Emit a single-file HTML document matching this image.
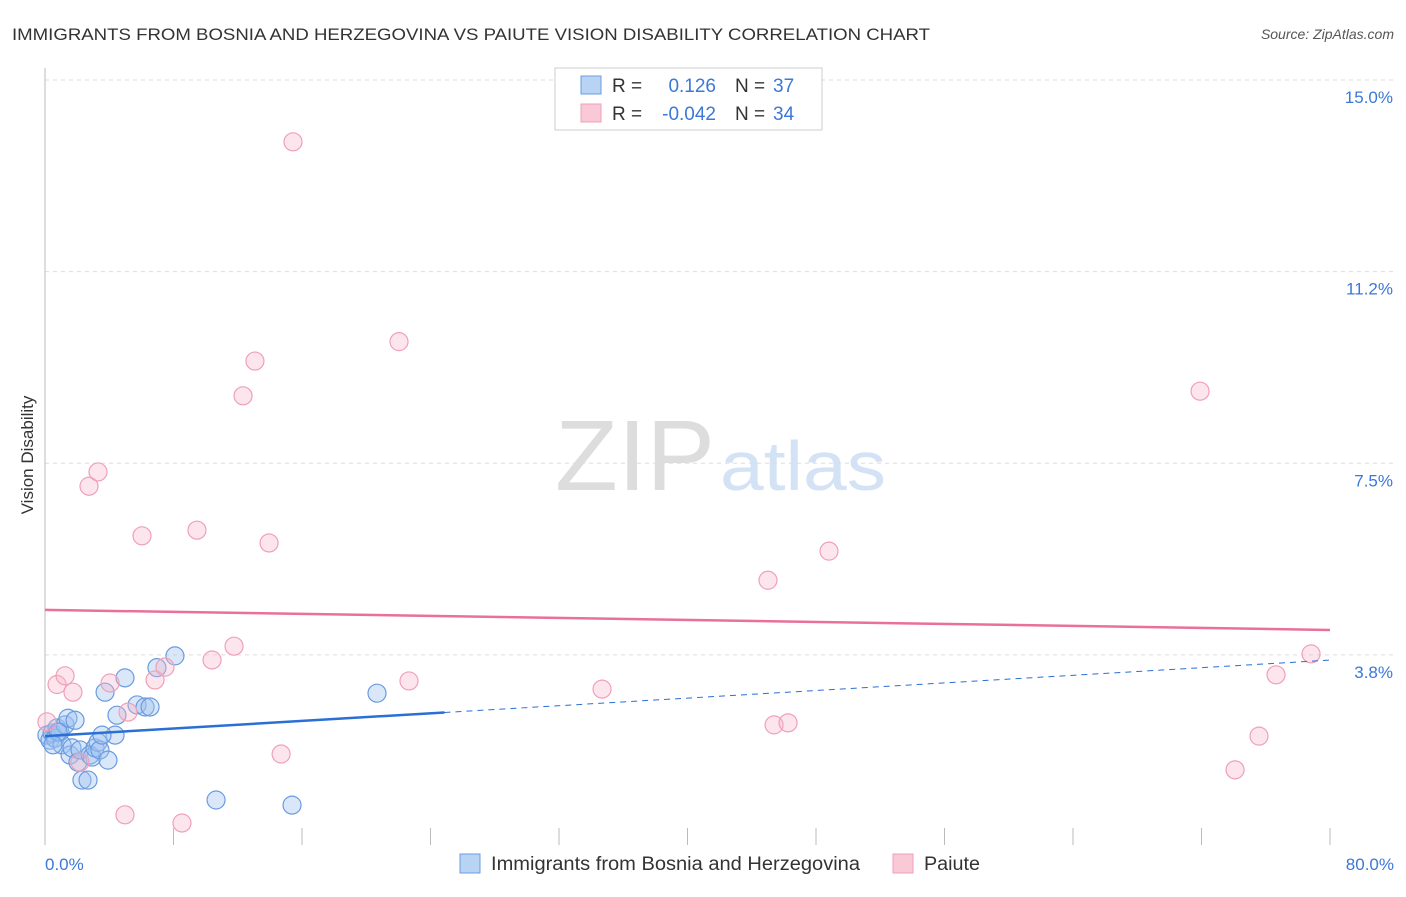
<!DOCTYPE html>
<html><head><meta charset="utf-8"><style>
body{margin:0;background:#fff;font-family:"Liberation Sans",sans-serif}
svg text{font-family:"Liberation Sans",sans-serif}
</style></head><body>
<svg id="c" width="1406" height="892">
<text x="12" y="40" font-size="17" fill="#333" textLength="918" lengthAdjust="spacingAndGlyphs">IMMIGRANTS FROM BOSNIA AND HERZEGOVINA VS PAIUTE VISION DISABILITY CORRELATION CHART</text>
<text x="1394" y="39" font-size="14" fill="#555" text-anchor="end" font-style="italic">Source: ZipAtlas.com</text>
<text x="33" y="455" font-size="17" fill="#333" text-anchor="middle" transform="rotate(-90 33 455)">Vision Disability</text>
<g><text x="555" y="490" font-size="100" fill="#ddd" textLength="160" lengthAdjust="spacingAndGlyphs" font-family="Liberation Serif">ZIP</text><text x="720" y="490" font-size="70" fill="#d3e2f5" textLength="166" lengthAdjust="spacingAndGlyphs">atlas</text></g>
<g id="grid"></g><g id="pts"></g><g id="trend"></g>
<g>
<rect x="555" y="68" width="267" height="62" fill="#fff" stroke="#ccc"/>
<rect x="581" y="76" width="20" height="18" fill="#b9d3f5" stroke="#6a9be0"/>
<rect x="581" y="104" width="20" height="18" fill="#f9c9d7" stroke="#f0a0b8"/>
<text x="612" y="92" font-size="19" fill="#333">R =</text><text x="716" y="92" font-size="19" fill="#3b78d8" text-anchor="end">0.126</text>
<text x="735" y="92" font-size="19" fill="#333">N =</text><text x="773" y="92" font-size="19" fill="#3b78d8">37</text>
<text x="612" y="120" font-size="19" fill="#333">R =</text><text x="716" y="120" font-size="19" fill="#3b78d8" text-anchor="end">-0.042</text>
<text x="735" y="120" font-size="19" fill="#333">N =</text><text x="773" y="120" font-size="19" fill="#3b78d8">34</text>
</g>
<g>
<rect x="460" y="854" width="20" height="19" fill="#b9d3f5" stroke="#6a9be0"/>
<text x="491" y="870" font-size="19" fill="#333" textLength="369" lengthAdjust="spacingAndGlyphs">Immigrants from Bosnia and Herzegovina</text>
<rect x="893" y="854" width="20" height="19" fill="#f9c9d7" stroke="#f0a0b8"/>
<text x="924" y="870" font-size="19" fill="#333" textLength="56" lengthAdjust="spacingAndGlyphs">Paiute</text>
</g>
</svg>
<script>
const blueX=[0.12,0.31,0.44,0.62,0.75,0.93,1.06,1.25,1.43,1.56,1.68,1.87,2.05,2.18,2.30,2.68,2.80,2.93,3.11,3.30,3.42,3.74,3.92,4.36,4.48,4.98,5.73,6.23,6.54,6.97,8.09,10.65,15.38,20.67,3.55,0.81,0.50];
const blueY=[2.18,2.08,2.22,2.12,2.32,2.24,1.99,2.38,2.51,1.79,1.93,2.47,1.65,1.89,1.30,1.30,1.79,1.75,1.93,2.04,1.89,3.02,1.69,2.18,2.57,3.30,2.77,2.73,2.73,3.50,3.73,0.91,0.81,3.00,2.18,2.24,1.99];
const pinkX=[0.12,0.75,1.25,1.74,2.18,2.74,3.30,4.05,4.98,5.17,6.04,6.85,7.47,8.53,9.46,10.40,11.77,12.33,13.07,13.95,14.70,15.44,22.04,22.66,34.68,45.01,45.39,46.26,48.81,71.91,74.09,75.58,76.64,78.82];
const pinkY=[2.44,3.17,3.34,3.02,1.65,7.05,7.33,3.20,0.62,2.63,6.08,3.26,3.51,0.46,6.19,3.65,3.92,8.82,9.50,5.94,1.81,13.79,9.88,3.24,3.08,5.21,2.38,2.42,5.78,8.91,1.50,2.16,3.36,3.77];
const blueTrend=[2.16,0.0186];
const pinkTrend=[4.63,-0.0049];
const yTicks=[15.0,11.2,7.5,3.8];
const yTickVals=[15,11.25,7.5,3.75];
const xTickLabels=["0.0%","80.0%"];
const NS="http://www.w3.org/2000/svg";
const X=v=>45+v/80*1285, Y=v=>80+(15-v)*51.1;
function mk(p,t,a){const e=document.createElementNS(NS,t);for(const k in a)e.setAttribute(k,a[k]);p.appendChild(e);return e;}
const g=document.getElementById('grid');
yTickVals.forEach((v,i)=>{
 const l=mk(g,'line',{x1:45,x2:1394,y1:Y(v),y2:Y(v),stroke:'#ddd','stroke-dasharray':'4,4'});
 
 
 const t=mk(g,'text',{x:1393,y:Y(v)+23,'font-size':17,fill:'#3b78d8','text-anchor':'end'});
 t.textContent=yTicks[i].toFixed(1)+'%';
 
 
});
const ax=mk(g,'line',{x1:45,x2:45,y1:68,y2:845,stroke:'#bbb'});


for(let i=0;i<=10;i++){const t=mk(g,'line',{x1:X(i*8),x2:X(i*8),y1:828,y2:845,stroke:'#bbb'});
 
 }
[[0,'start',45],[80,'end',1394]].forEach((d,i)=>{const t=mk(g,'text',{x:d[2],y:870,'font-size':17,fill:'#3b78d8','text-anchor':d[1]});t.textContent=xTickLabels[i];
 
 });
const p=document.getElementById('pts');
blueX.forEach((x,i)=>{const c=mk(p,'circle',{cx:X(x),cy:Y(blueY[i]),r:9,fill:'rgba(160,195,240,0.4)',stroke:'#6a9be0','stroke-width':1.2});
 
 });
pinkX.forEach((x,i)=>{const c=mk(p,'circle',{cx:X(x),cy:Y(pinkY[i]),r:9,fill:'rgba(245,180,200,0.35)',stroke:'#f0a0b8','stroke-width':1.2});
 
 });
const tr=document.getElementById('trend');
const bx=Math.max(...blueX);
let l=mk(tr,'line',{x1:X(0),y1:Y(blueTrend[0]),x2:X(bx+4.2),y2:Y(blueTrend[0]+blueTrend[1]*(bx+4.2)),stroke:'#2a6fd6','stroke-width':2.5});


l=mk(tr,'line',{x1:X(bx+4.2),y1:Y(blueTrend[0]+blueTrend[1]*(bx+4.2)),x2:X(80),y2:Y(blueTrend[0]+blueTrend[1]*80),stroke:'#2a6fd6','stroke-width':1,'stroke-dasharray':'6,5'});


l=mk(tr,'line',{x1:X(0),y1:Y(pinkTrend[0]),x2:X(80),y2:Y(pinkTrend[0]+pinkTrend[1]*80),stroke:'#e8709a','stroke-width':2.5});


</script>
</body></html>
